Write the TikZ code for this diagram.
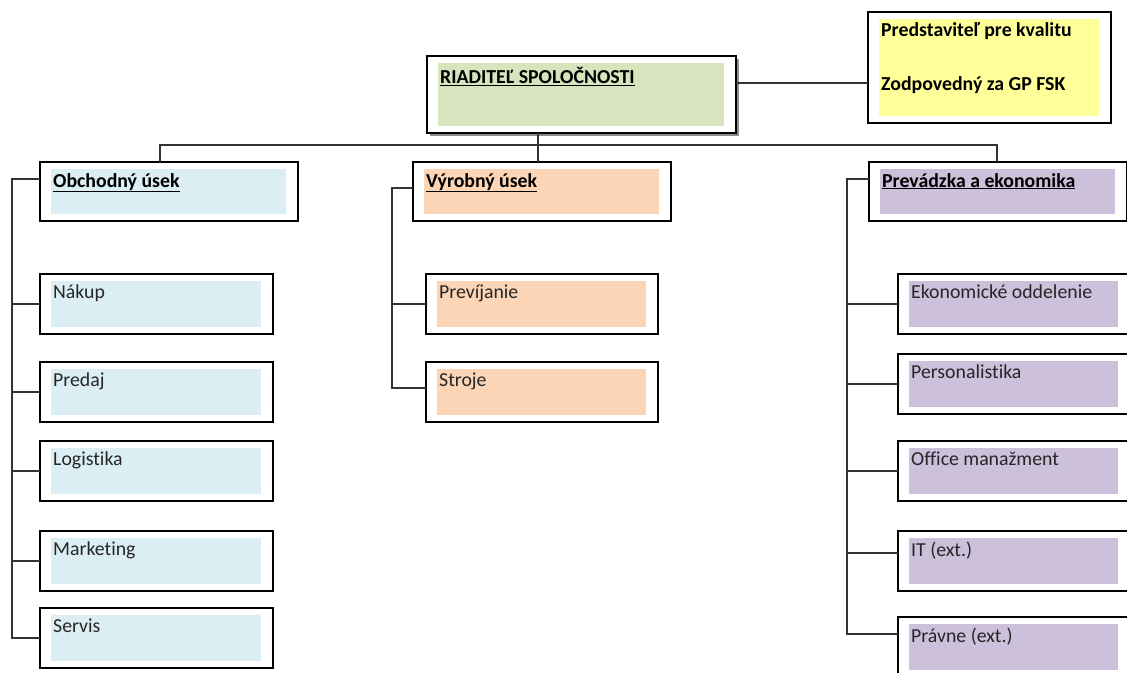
\documentclass[tikz,border=0pt]{standalone}
\usepackage{fontspec}
\setmainfont{Carlito}[Ligatures={NoCommon}]
\usepackage{tikz}
\usetikzlibrary{shadows}

\definecolor{dirgreen}{HTML}{D7E4BD}
\definecolor{qualyellow}{HTML}{FFFF99}
\definecolor{obchblue}{HTML}{DBEEF4}
\definecolor{vyrorange}{HTML}{FBD5B5}
\definecolor{prevlilac}{HTML}{CCC0DA}
\newcommand{\unitfont}{\fontsize{19.8}{24}\selectfont}

\tikzset{
  unit/.style={draw=black, line width=1.2pt, fill=white, anchor=north west,
    inner sep=0pt, outer sep=0pt, minimum width=233pt, minimum height=60pt,
    path picture={\fill[#1] ([shift={(11pt,-7pt)}]path picture bounding box.north west)
      rectangle ([shift={(-12pt,7pt)}]path picture bounding box.south east);}},
  caption/.style={anchor=north west, inner sep=0pt, xshift=13pt, yshift=-11pt,
    font=\unitfont, text=black!85, align=left},
  link/.style={draw=black!80, line width=1.1pt},
}

\begin{document}
\begin{tikzpicture}[x=1pt,y=-1pt]
  \useasboundingbox (0,0) rectangle (1127,672);

  % top level
  \node[unit=dirgreen, minimum width=309pt, minimum height=77pt,
    drop shadow={shadow xshift=3pt, shadow yshift=-3pt, fill=black!45, opacity=1},
    label={[caption, text=black]north west:\textbf{\underline{RIADITEĽ SPOLOČNOSTI}}}] (dir) at (427,56) {};
  \node[unit=qualyellow, minimum width=243pt, minimum height=111pt,
    label={[caption, yshift=1pt, text=black]north west:\textbf{Predstaviteľ pre kvalitu}\\[30pt]\textbf{Zodpovedný za GP FSK}}] (qual) at (868,12) {};

  % sections
  \node[unit=obchblue, minimum width=258pt, minimum height=59pt,
    label={[caption, text=black]north west:\textbf{\underline{Obchodný úsek}}}] (obch) at (40,162) {};
  \node[unit=vyrorange, minimum width=258pt, minimum height=59pt,
    label={[caption, text=black]north west:\textbf{\underline{Výrobný úsek}}}] (vyr) at (413,162) {};
  \node[unit=prevlilac, minimum width=258pt, minimum height=59pt,
    label={[caption, text=black]north west:\textbf{\underline{Prevádzka a ekonomika}}}] (prevad) at (869,162) {};

  % departments
  \foreach \nm/\top/\txt in {nakup/274/Nákup, predaj/362/Predaj, logist/441/Logistika,
      market/531/Marketing, servis/608/Servis}
    \node[unit=obchblue, label={[caption]north west:\txt}] (\nm) at (40,\top) {};
  \foreach \nm/\top/\txt in {previj/274/Prevíjanie, stroje/362/Stroje}
    \node[unit=vyrorange, minimum width=232pt, label={[caption]north west:\txt}] (\nm) at (426,\top) {};
  \foreach \nm/\top/\txt in {ekon/274/Ekonomické oddelenie, person/354/Personalistika,
      office/441/Office manažment, it/531/IT (ext.), pravne/617/Právne (ext.)}
    \node[unit=prevlilac, minimum width=232pt, label={[caption]north west:\txt}] (\nm) at (898,\top) {};

  % connectors
  \coordinate (dq) at (736,83);
  \draw[link] (dq -| dir.east) -- (dq -| qual.west);
  \coordinate (bus) at (538,145);
  \coordinate (bl) at (160,145);
  \coordinate (br) at (997,145);
  \draw[link] (dir.south -| bus) -- (bus) -- (bus |- vyr.north);
  \draw[link] (bl |- obch.north) -- (bl) -- (br) -- (br |- prevad.north);

  \coordinate (ls) at (12,179);
  \draw[link] (ls -| obch.west) -- (ls) |- (servis.west);
  \foreach \c in {nakup, predaj, logist, market}
    \draw[link] (\c.west) -- (\c.west -| ls);

  \coordinate (ms) at (392,188);
  \draw[link] (ms -| vyr.west) -- (ms) |- ([yshift=4pt]stroje.west);
  \draw[link] (previj.west) -- (previj.west -| ms);

  \coordinate (rs) at (847,179);
  \draw[link] (rs -| prevad.west) -- (rs) |- ([yshift=13pt]pravne.west);
  \foreach \c in {ekon, person, office}
    \draw[link] (\c.west) -- (\c.west -| rs);
  \draw[link] ([yshift=8pt]it.west) -- ([yshift=8pt]it.west -| rs);
\end{tikzpicture}
\end{document}
